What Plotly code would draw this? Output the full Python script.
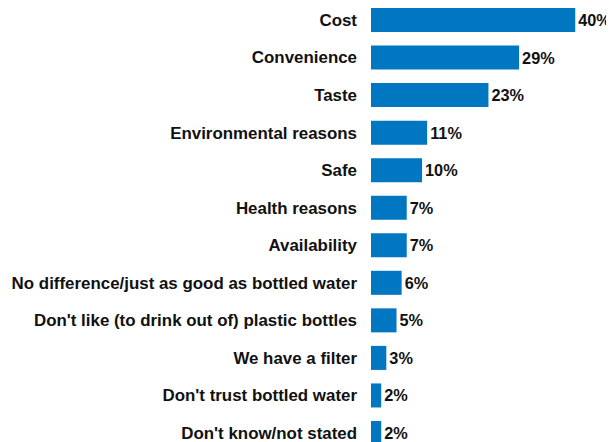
import plotly.graph_objects as go

categories = [
    "Cost", "Convenience", "Taste", "Environmental reasons", "Safe",
    "Health reasons", "Availability", "No difference/just as good as bottled water",
    "Don't like (to drink out of) plastic bottles", "We have a filter",
    "Don't trust bottled water", "Don't know/not stated",
]
values = [40, 29, 23, 11, 10, 7, 7, 6, 5, 3, 2, 2]
value_labels = [f"{v}%" for v in values]

fig = go.Figure(go.Bar(
    x=values, y=categories, orientation="h",
    marker=dict(color="#0077c0", line=dict(width=0)),
    text=value_labels, textposition="outside", cliponaxis=False,
    textfont=dict(family="Liberation Sans, Arial", size=16.3, color="#111111", weight="bold"),
    width=0.64,
))
# page body has an 8px margin, so the figure is sized to fit the 614x442 window
fig.update_layout(
    width=606, height=434,
    margin=dict(l=363, r=3, t=0, b=0, autoexpand=False),
    paper_bgcolor="white", plot_bgcolor="white",
    font=dict(family="Liberation Sans, Arial", size=16.9, color="#111111"),
    showlegend=False,
    xaxis=dict(range=[0, 47], visible=False, showgrid=False, zeroline=False, automargin=False),
    yaxis=dict(categoryorder="array", categoryarray=categories, automargin=False,
               range=[11.24, -0.32], showgrid=False, zeroline=False,
               showline=False, ticks="", ticklabelstandoff=13,
               tickfont=dict(family="Liberation Sans, Arial", size=16.9, color="#111111", weight="bold")),
)
fig.write_html("out.html")
